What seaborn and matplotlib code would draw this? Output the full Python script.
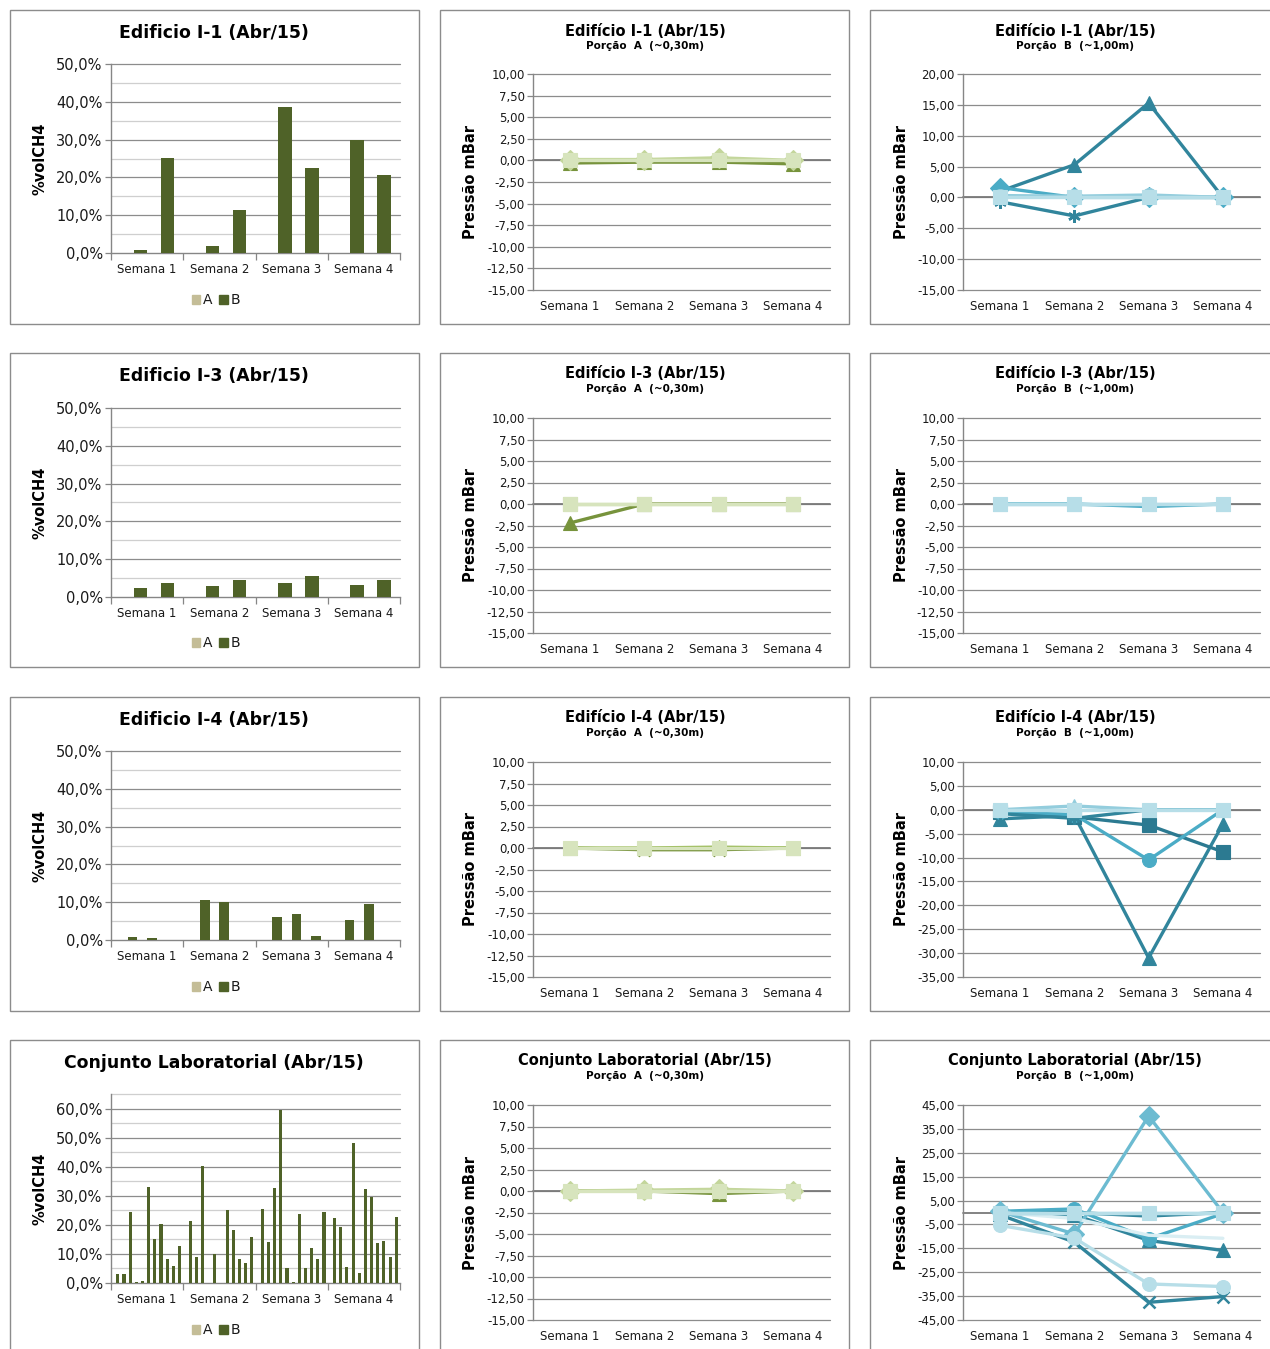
import numpy as np
import pandas as pd
import matplotlib
matplotlib.use("Agg")
import matplotlib.pyplot as plt
from matplotlib.patches import Rectangle, Patch
from matplotlib.ticker import FixedLocator, FuncFormatter
import seaborn as sns

sns.set_theme(style="white")
plt.rcParams["font.family"] = ["DejaVu Sans"]

W, H = 1270, 1349
SEMANAS = ["Semana 1", "Semana 2", "Semana 3", "Semana 4"]

# ---------------- %vol CH4 (bars) : one list per sampling point, 4 weeks each
I1_A = [[0, 0, 0, 0], [0, 0, 0, 0]]
I1_B = [[0.9, 1.8, 38.5, 30.0], [25.1, 11.3, 22.4, 20.7]]

I3_A = [[0, 0, 0, 0], [0, 0, 0, 0]]
I3_B = [[2.3, 3.0, 3.6, 3.3], [3.6, 4.6, 5.6, 4.6]]

I4_A = [[0, 0, 0, 0], [0, 0, 0, 0], [0, 0, 0, 0]]
I4_B = [[0.8, 10.6, 6.2, 5.2], [0.45, 10.1, 6.9, 9.6], [0.0, 0.0, 1.15, 0.0]]

# Conjunto Laboratorial: 11 points, listed week by week
LAB_B_S1 = [3.0, 3.0, 24.5, 0.35, 0.8, 33.1, 15.3, 20.2, 8.2, 6.0, 12.7]
LAB_B_S2 = [21.4, 9.1, 40.4, 0.0, 10.0, 0.0, 25.1, 18.3, 8.2, 7.0, 15.8]
LAB_B_S3 = [25.5, 14.1, 32.6, 59.4, 5.2, 0.35, 23.8, 5.2, 12.2, 8.2, 24.5]
LAB_B_S4 = [22.4, 19.2, 5.5, 48.3, 3.5, 32.5, 29.5, 13.9, 14.4, 9.1, 22.8]
LAB_B = [list(p) for p in zip(LAB_B_S1, LAB_B_S2, LAB_B_S3, LAB_B_S4)]
LAB_A = [[0, 0, 0, 0] for _ in LAB_B]

# ---------------- Pressure (mBar) : one list per series, 4 weeks each
I1_PA = [[-0.3, -0.2, -0.2, -0.4], [0.1, 0.1, 0.3, 0.0], [0.0, 0.0, 0.0, 0.0]]
I1_PB = [[1.0, 5.3, 15.3, 0.0], [-0.7, -3.0, 0.0, 0.0], [1.6, 0.0, 0.0, 0.0],
         [0.3, 0.2, 0.4, 0.0], [0.0, 0.0, 0.0, 0.0]]

I3_PA = [[-2.2, 0.0, 0.0, 0.0], [0.0, 0.0, 0.0, 0.0], [0.0, 0.0, 0.0, 0.0]]
I3_PB = [[0.0, 0.0, -0.3, 0.0], [0.0, 0.0, 0.0, 0.0], [0.0, 0.0, 0.0, 0.0]]

I4_PA = [[0.0, -0.2, -0.2, 0.0], [0.0, 0.0, 0.1, 0.0], [0.0, 0.0, 0.0, 0.0]]
I4_PB = [[-1.9, -1.2, -31.0, -3.0], [-0.5, -1.5, -3.2, -8.8], [-0.5, -1.0, -10.5, 0.0],
         [-0.8, -1.8, 0.0, 0.0], [0.0, 0.8, 0.0, 0.0], [0.0, 0.0, 0.0, 0.0]]

LAB_PA = [[0.0, 0.0, -0.3, 0.0], [0.0, 0.1, 0.2, 0.0], [0.0, 0.0, 0.0, 0.0]]
LAB_PB = [[0.0, 0.0, -1.5, 0.0], [-0.5, -1.0, -11.7, -15.9], [-1.0, -12.4, -37.6, -35.2],
          [0.5, 1.5, -11.0, -0.5], [0.5, -9.0, 40.4, 0.0], [-5.4, -10.7, -29.9, -31.0],
          [0.0, -2.5, -9.5, -10.8], [0.0, 0.0, 0.0, 0.0], [0.0, 0.0, 0.0, 0.0]]

# ---------------- styling
COR_A = "#C4BD97"
COR_B = "#4F6228"
AXIS = "#868686"
GRID_MAJOR = "#8C8C8C"
GRID_MINOR = "#CFCFCF"
TXT = "#1A1A1A"
ASTER = (6, 2, 0)

# (colour, marker) per series, in drawing order
EST_A3 = [("#77933C", "^"), ("#C3D69B", "D"), ("#D7E4BD", "s")]
EST_I1B = [("#31859C", "^"), ("#31859C", ASTER), ("#4BACC6", "D"), ("#93CDDD", "o"), ("#B7DEE8", "s")]
EST_I3B = [("#4BACC6", None), ("#93CDDD", "^"), ("#B7DEE8", "s")]
EST_I4B = [("#31859C", "^"), ("#2C7A91", "s"), ("#4BACC6", "o"), ("#31859C", ASTER),
           ("#93CDDD", "^"), ("#B7DEE8", "s")]
EST_LABB = [("#31859C", None), ("#31859C", "^"), ("#31859C", "x"), ("#4BACC6", "o"),
            ("#6CBBD1", "D"), ("#B7DEE8", "o"), ("#DAEEF3", None), ("#93CDDD", ASTER), ("#B7DEE8", "s")]
EST_I3A = [("#77933C", "^"), ("#C3D69B", "s"), ("#D7E4BD", "s")]
EST_I4A = [("#77933C", "x"), ("#9BBB59", "^"), ("#D7E4BD", "s")]

fig = plt.figure(figsize=(W / 100, H / 100), dpi=100)


def px_axes(x0, y0, x1, y1):
    return fig.add_axes([x0 / W, 1 - y1 / H, (x1 - x0) / W, (y1 - y0) / H])


def fx(x):
    return x / W


def fy(y):
    return 1 - y / H


def frame(x0, y0, x1, y1):
    fig.add_artist(Rectangle((fx(x0), fy(y1)), (x1 - x0) / W, (y1 - y0) / H,
                             transform=fig.transFigure, fill=False, ec="#8C8C8C", lw=1.0))


def pct(v, _):
    return f"{v:.1f}%".replace(".", ",")


def dec(v, _):
    return f"{v:.2f}".replace(".", ",")


def bar_panel(ax, a_pts, b_pts, ymax, width):
    rows, order, pal = [], [], {}
    for i, (a_vals, b_vals) in enumerate(zip(a_pts, b_pts), start=1):
        order += [f"A{i}", f"B{i}"]
        pal[f"A{i}"] = COR_A
        pal[f"B{i}"] = COR_B
        for sem, va, vb in zip(SEMANAS, a_vals, b_vals):
            rows.append({"semana": sem, "ponto": f"A{i}", "valor": va})
            rows.append({"semana": sem, "ponto": f"B{i}", "valor": vb})
    df = pd.DataFrame(rows)
    for v in np.arange(5, ymax + 0.1, 5):
        ax.axhline(v, color=GRID_MINOR if v % 10 else GRID_MAJOR, lw=0.9, zorder=1, clip_on=False)
    sns.barplot(data=df, x="semana", y="valor", hue="ponto", hue_order=order, order=SEMANAS,
                palette=pal, width=width, saturation=1, errorbar=None, legend=False,
                linewidth=0, ax=ax, zorder=3)
    ax.set_ylim(0, ymax)
    ax.set_xlim(-0.5, 3.5)
    ax.set_yticks(np.arange(0, ymax + 0.1, 10))
    ax.yaxis.set_major_formatter(FuncFormatter(pct))
    ax.set_xticks(range(4))
    ax.set_xticklabels(SEMANAS)
    ax.xaxis.set_minor_locator(FixedLocator([-0.5, 0.5, 1.5, 2.5, 3.5]))
    ax.tick_params(axis="y", length=4, width=0.9, color=AXIS, labelsize=10.5, labelcolor=TXT, pad=2, left=True)
    ax.tick_params(axis="x", which="major", length=0, labelsize=8.5, labelcolor=TXT, pad=7, bottom=False)
    ax.tick_params(axis="x", which="minor", length=5, width=0.9, color=AXIS, bottom=True)
    for s in ("top", "right"):
        ax.spines[s].set_visible(False)
    for s in ("left", "bottom"):
        ax.spines[s].set_color(AXIS)
        ax.spines[s].set_linewidth(1.0)
    ax.set_xlabel("")
    ax.set_ylabel("")
    ax.set_facecolor("white")


def line_panel(ax, series, styles, ymin, ymax, step):
    ticks = np.arange(ymin, ymax + step / 2, step)
    for v in ticks:
        ax.axhline(v, color=GRID_MAJOR, lw=0.9, zorder=1, clip_on=False)
    ax.axhline(0, color="#7A7A7A", lw=1.3, zorder=2, clip_on=False)
    for vals, (cor, mk) in zip(series, styles):
        kw = {}
        if mk is not None:
            hollow = mk in ("x", ASTER)
            kw = dict(marker=mk, markersize=9 if hollow else 10,
                      markeredgecolor=cor, markerfacecolor=cor,
                      markeredgewidth=1.8 if hollow else 0.8)
        sns.lineplot(x=list(range(4)), y=vals, color=cor, linewidth=2.4, ax=ax, zorder=3, **kw)
    ax.set_ylim(ymin, ymax)
    ax.set_xlim(-0.5, 3.5)
    ax.set_yticks(ticks)
    ax.yaxis.set_major_formatter(FuncFormatter(dec))
    ax.set_xticks(range(4))
    ax.set_xticklabels(SEMANAS)
    ax.tick_params(axis="y", length=4, width=0.9, color=AXIS, labelsize=8.5, labelcolor=TXT, pad=2, left=True)
    ax.tick_params(axis="x", length=0, labelsize=8.5, labelcolor=TXT, pad=7, bottom=False)
    for s in ("top", "right", "bottom"):
        ax.spines[s].set_visible(False)
    ax.spines["left"].set_color(AXIS)
    ax.spines["left"].set_linewidth(1.0)
    ax.set_xlabel("")
    ax.set_ylabel("")
    ax.set_facecolor("white")


ROW_TOP = [10, 353, 697, 1040]
COL = [(10, 419), (440, 849), (870, 1275)]

for r, top in enumerate(ROW_TOP):
    bottom = top + 314 if r < 3 else 1360
    for (c0, c1) in COL:
        frame(c0, top, c1, bottom)

# ---- left column: %vol CH4 bars
bar_cfg = [
    ("Edificio I-1 (Abr/15)", I1_A, I1_B, 50, 0.75, 64, 253),
    ("Edificio I-3 (Abr/15)", I3_A, I3_B, 50, 0.75, 408, 597),
    ("Edificio I-4 (Abr/15)", I4_A, I4_B, 50, 0.8, 751, 940),
    ("Conjunto Laboratorial (Abr/15)", LAB_A, LAB_B, 65, 0.94, 1094, 1283),
]
for r, (titulo, a_pts, b_pts, ymax, wd, y_top, y_base) in enumerate(bar_cfg):
    top = ROW_TOP[r]
    ax = px_axes(111, y_top, 400, y_base)
    bar_panel(ax, a_pts, b_pts, ymax, wd)
    fig.text(fx(214), fy(top + 23), titulo, ha="center", va="center",
             fontsize=12.4, fontweight="bold", color="black")
    fig.text(fx(40), fy((y_top + y_base) / 2), "%volCH4", rotation=90, ha="center", va="center",
             fontsize=10.5, fontweight="bold", color="black")
    fig.legend(handles=[Patch(color=COR_A, label="A"), Patch(color=COR_B, label="B")],
               loc="center", bbox_to_anchor=(fx(216), fy(top + 290)), ncol=2, frameon=False,
               fontsize=10, handlelength=0.6, handleheight=0.6, handletextpad=0.2,
               columnspacing=0.5, labelcolor=TXT)

# ---- middle and right columns: pressure lines
line_cfg = [
    ("Edifício I-1 (Abr/15)", I1_PA, EST_A3, (-15, 10, 2.5), I1_PB, EST_I1B, (-15, 20, 5), 74, 290),
    ("Edifício I-3 (Abr/15)", I3_PA, EST_I3A, (-15, 10, 2.5), I3_PB, EST_I3B, (-15, 10, 2.5), 418, 633),
    ("Edifício I-4 (Abr/15)", I4_PA, EST_I4A, (-15, 10, 2.5), I4_PB, EST_I4B, (-35, 10, 5), 762, 977),
    ("Conjunto Laboratorial (Abr/15)", LAB_PA, EST_A3, (-15, 10, 2.5), LAB_PB, EST_LABB, (-45, 45, 10), 1105, 1320),
]
for r, (titulo, pa, ea, lima, pb, eb, limb, y_top, y_bot) in enumerate(line_cfg):
    top = ROW_TOP[r]
    for (x0, x1, cx, lx, vals, est, lim, sub) in [
        (533, 830, 645, 471, pa, ea, lima, "Porção  A  (~0,30m)"),
        (963, 1260, 1075, 901, pb, eb, limb, "Porção  B  (~1,00m)"),
    ]:
        ax = px_axes(x0, y_top, x1, y_bot)
        line_panel(ax, vals, est, *lim)
        fig.text(fx(cx), fy(top + 21), titulo, ha="center", va="center",
                 fontsize=10.5, fontweight="bold", color="black")
        fig.text(fx(cx), fy(top + 36), sub, ha="center", va="center",
                 fontsize=7.5, fontweight="bold", color="black")
        fig.text(fx(lx), fy((y_top + y_bot) / 2), "Pressão mBar", rotation=90, ha="center", va="center",
                 fontsize=10.5, fontweight="bold", color="black")

fig.savefig("out.png", dpi=100, facecolor="white")
